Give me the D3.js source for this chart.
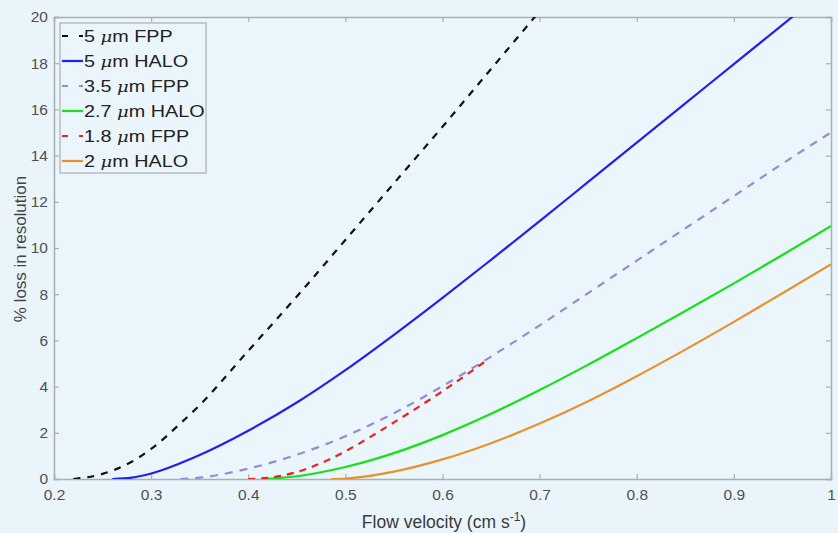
<!DOCTYPE html>
<html><head><meta charset="utf-8">
<script src="https://cdn.jsdelivr.net/npm/d3@7"></script>
<style>
html,body{margin:0;padding:0;background:#e9f5fb;}
text{font-family:"Liberation Sans",Arial,sans-serif;}
</style></head>
<body>
<svg id="c" width="838" height="533"></svg>
<script>
// ---- data ----
const xTicks = [0.2,0.3,0.4,0.5,0.6,0.7,0.8,0.9,1];
const yTicks = [0,2,4,6,8,10,12,14,16,18,20];
const seriesNames = ["5 μm FPP","5 μm HALO","3.5 μm FPP","2.7 μm HALO","1.8 μm FPP","2 μm HALO"];

const fpp5 = [[0.22,0],[0.25,0.22],[0.28,0.75],[0.30,1.3],[0.33,2.4],[0.35,3.2],[0.40,5.55],[0.45,7.9],[0.50,10.35],[0.55,12.8],[0.60,15.25],[0.65,17.75],[0.70,20.25]];
const halo5 = [[0.26,0],[0.28,0.06],[0.30,0.24],[0.35,1.04],[0.40,2.09],[0.45,3.31],[0.50,4.71],[0.55,6.24],[0.60,7.84],[0.65,9.49],[0.70,11.16],[0.75,12.86],[0.80,14.56],[0.85,16.26],[0.90,17.96],[0.95,19.66],[0.97,20.34]];
const fpp35 = [[0.33,0],[0.35,0.06],[0.40,0.45],[0.45,1.05],[0.50,1.85],[0.55,2.85],[0.60,4.02],[0.65,5.3],[0.70,6.65],[0.75,8.05],[0.80,9.45],[0.85,10.85],[0.90,12.25],[0.95,13.65],[1.00,15.0]];
const halo27 = [[0.417,0],[0.45,0.12],[0.50,0.52],[0.55,1.12],[0.60,1.9],[0.65,2.82],[0.70,3.85],[0.75,4.95],[0.80,6.1],[0.85,7.27],[0.90,8.47],[0.95,9.7],[1.00,10.95]];
const fpp18 = [[0.40,0],[0.42,0.05],[0.45,0.3],[0.48,0.78],[0.50,1.2],[0.55,2.45],[0.60,3.8],[0.646,5.15]];
const halo2 = [[0.485,0],[0.50,0.02],[0.55,0.32],[0.60,0.85],[0.65,1.55],[0.70,2.4],[0.75,3.37],[0.80,4.45],[0.85,5.6],[0.90,6.8],[0.95,8.04],[1.00,9.3]];

const seriesData = [fpp5, halo5, fpp35, halo27, fpp18, halo2];
const colors = ["#111111","#2020f0","#9a8bd0","#18e018","#ee2020","#e8922e"];
const dashes = ["7,7",null,"8,7",null,"7,6",null];

// ---- layout ----
const svg = d3.select("#c");
const L=54, R=831, T=17, B=479;
const x = d3.scaleLinear().domain([0.2,1]).range([L,R]);
const y = d3.scaleLinear().domain([0,20]).range([B,T]);
const axisCol = "#a9b0b4";
const tickTextCol = "#505050";

svg.append("rect").attr("width",838).attr("height",533).attr("fill","#e9f5fb");
svg.append("rect").attr("x",L).attr("y",T).attr("width",R-L).attr("height",B-T).attr("fill","#eaf6fb");

svg.append("defs").append("clipPath").attr("id","clip")
  .append("rect").attr("x",L).attr("y",T).attr("width",R-L).attr("height",B-T);

// axes
const ax = svg.append("g").attr("transform",`translate(0,${B})`)
  .call(d3.axisBottom(x).tickValues(xTicks).tickSize(-5).tickPadding(10).tickFormat(d=>d3.format("")(d)));
const axT = svg.append("g").attr("transform",`translate(0,${T})`)
  .call(d3.axisTop(x).tickValues(xTicks).tickSize(-5).tickFormat(""));
const ay = svg.append("g").attr("transform",`translate(${L},0)`)
  .call(d3.axisLeft(y).tickValues(yTicks).tickSize(-5).tickPadding(6));
const ayR = svg.append("g").attr("transform",`translate(${R},0)`)
  .call(d3.axisRight(y).tickValues(yTicks).tickSize(-5).tickFormat(""));
[ax,axT,ay,ayR].forEach(g=>{
  g.select(".domain").attr("stroke",axisCol).attr("stroke-width",1.5);
  g.selectAll(".tick line").attr("stroke",axisCol).attr("stroke-width",1.2);
  g.selectAll(".tick text").attr("fill",tickTextCol).attr("font-size",15.5)
   .attr("font-family","'Liberation Sans',Arial,sans-serif");
});

// lines
const line = d3.line().x(d=>x(d[0])).y(d=>y(d[1])).curve(d3.curveMonotoneX);
const plot = svg.append("g").attr("clip-path","url(#clip)");
seriesData.forEach((s,i)=>{
  plot.append("path").datum(s).attr("d",line).attr("fill","none")
    .attr("stroke",colors[i]).attr("stroke-width",2.2)
    .attr("stroke-dasharray",dashes[i]);
});

// axis labels
const xl = svg.append("text").attr("x",444).attr("y",528).attr("text-anchor","middle")
  .attr("font-size",17.5).attr("fill","#3a3a3a");
xl.append("tspan").text("Flow velocity (cm s");
xl.append("tspan").attr("dy",-7).attr("font-size",12).text("-1");
xl.append("tspan").attr("dy",7).text(")");
svg.append("text").attr("transform","translate(26,249) rotate(-90)")
  .attr("text-anchor","middle").attr("font-size",17).attr("fill","#444")
  .text("% loss in resolution");

// legend
const lg = svg.append("g");
lg.append("rect").attr("x",60).attr("y",23).attr("width",146).attr("height",150)
  .attr("fill","#eaf6fb").attr("stroke",axisCol).attr("stroke-width",1.2);
seriesNames.forEach((n,i)=>{
  const yy = 36 + i*25;
  lg.append("line").attr("x1",62).attr("x2",83).attr("y1",yy).attr("y2",yy)
    .attr("stroke",colors[i]).attr("stroke-width",2.2)
    .attr("stroke-dasharray",dashes[i] ? "6,11" : null);
  const parts = n.split("μ");
  const t = lg.append("text").attr("transform",`translate(84,${yy+6}) scale(1.2,1)`)
    .attr("font-size",16.5).attr("fill","#222");
  t.append("tspan").text(parts[0]);
  t.append("tspan").attr("font-style","italic").attr("font-family","'DejaVu Serif',serif").attr("font-size",15).text("μ");
  t.append("tspan").text(parts[1]);
});
</script>
</body></html>
